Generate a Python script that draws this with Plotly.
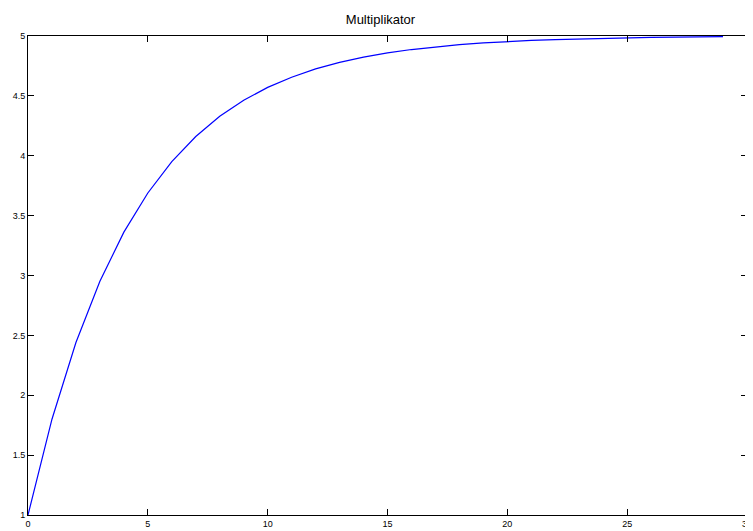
import plotly.graph_objects as go

periods = list(range(30))
multiplier = [1.0, 1.8, 2.44, 2.952, 3.362, 3.689, 3.951, 4.161, 4.329, 4.463,
              4.571, 4.656, 4.725, 4.780, 4.824, 4.859, 4.887, 4.910, 4.928, 4.942,
              4.954, 4.963, 4.970, 4.976, 4.981, 4.985, 4.988, 4.990, 4.992, 4.994]
x_ticks = [0, 5, 10, 15, 20, 25, 30]
y_ticks = [1, 1.5, 2, 2.5, 3, 3.5, 4, 4.5, 5]
y_labels = ["1", "1.5", "2", "2.5", "3", "3.5", "4", "4.5", "5"]

fig = go.Figure(go.Scatter(x=periods, y=multiplier, mode="lines",
                           line=dict(color="#0000FF", width=1.2)))

axis_common = dict(showline=True, linecolor="black", linewidth=1, mirror="ticks",
                   ticks="inside", ticklen=6, tickcolor="black", tickwidth=1,
                   showgrid=False, zeroline=False, automargin=False,
                   ticklabeloverflow="allow",
                   tickfont=dict(family="Liberation Sans, Arial", size=9, color="black"))

fig.update_xaxes(range=[0, 30], tickvals=x_ticks, ticklabelstandoff=0, **axis_common)
fig.update_yaxes(range=[1, 5], tickvals=y_ticks, ticktext=y_labels, **axis_common)

H = 523
fig.update_layout(
    width=745, height=H,
    margin=dict(l=20, r=6, t=28, b=16, autoexpand=False),
    paper_bgcolor="white", plot_bgcolor="white",
    showlegend=False,
    title=dict(text="Multiplikator", x=0.5, xanchor="center", y=1 - 11/H, yanchor="middle",
               automargin=False,
               font=dict(family="Liberation Sans, Arial", size=13, color="black")),
)

fig.write_html("out.html")
